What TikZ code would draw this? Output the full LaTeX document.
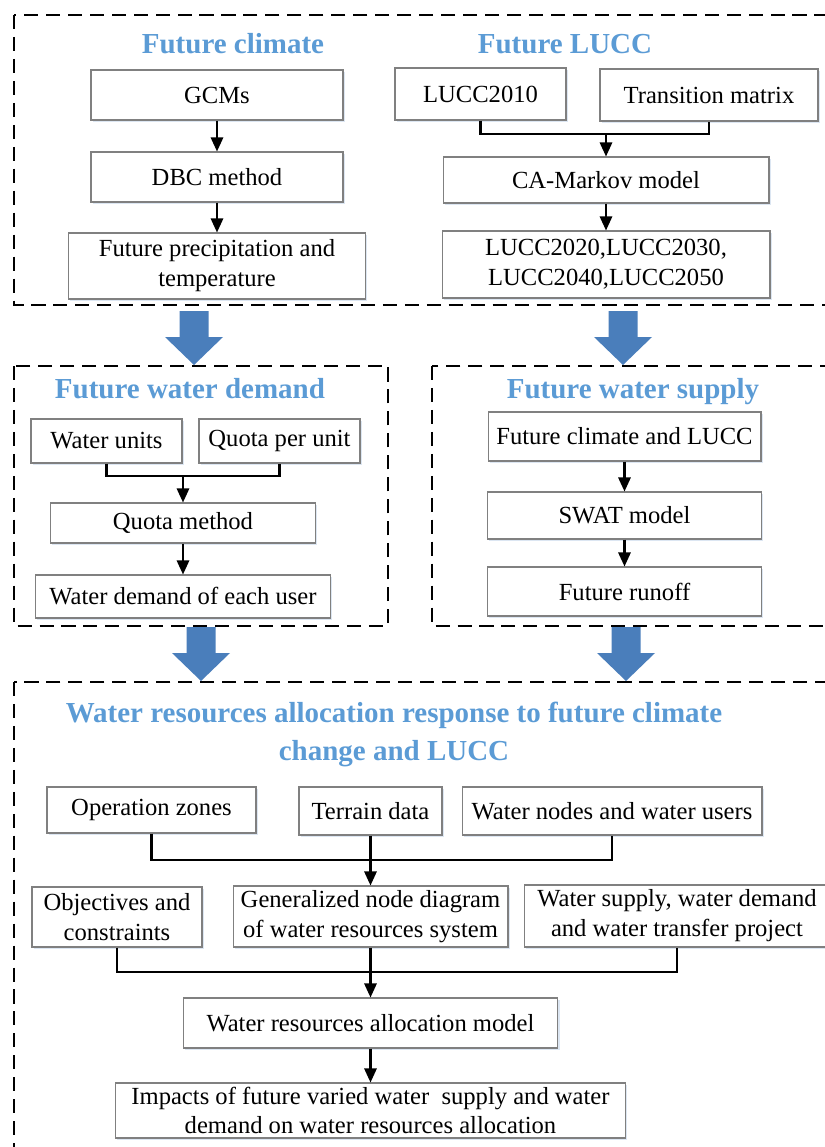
\documentclass[tikz,border=0pt]{standalone}
\usepackage{fontspec}
\setmainfont{Liberation Serif}
\usetikzlibrary{arrows.meta, shadows}
\definecolor{ctitle}{HTML}{5B9BD5}
\definecolor{cbig}{HTML}{4A7EBB}
\definecolor{cgrey}{HTML}{808080}
\definecolor{cshadow}{HTML}{DCE6F2}
\tikzset{
  box/.style={draw=cgrey, line width=0.6pt, fill=white, align=center, inner sep=2pt,
    font=\fontsize{14}{17}\selectfont,
    drop shadow={shadow xshift=1pt, shadow yshift=-1.4pt, fill=cshadow, opacity=1}},
  title/.style={font=\fontsize{16.5}{21.5}\selectfont\bfseries, text=ctitle, align=center, anchor=base},
  dashbox/.style={draw=black, line width=1pt, dash pattern=on 8pt off 4.5pt},
  arrow/.style={-{Triangle[width=7pt, length=8pt]}, draw=black, line width=1.2pt},
  link/.style={draw=black, line width=1.2pt},
  bigarrow/.pic={
    \fill[cbig] (-14.5,0) -- (14.5,0) -- (14.5,26) -- (29,26) -- (0,54)
      -- (-29,26) -- (-14.5,26) -- cycle;
  },
}

\begin{document}
\begin{tikzpicture}[x=0.02cm, y=-0.02cm]
  \useasboundingbox (0,0) rectangle (825,1147);
  \clip (0,0) rectangle (825,1147);

  % dashed frames
  \draw[dashbox] (14,15) rectangle (845,305);
  \draw[dashbox] (14,366) rectangle (388,626);
  \draw[dashbox] (432,366) rectangle (845,626);
  \draw[dashbox] (14,682) rectangle (845,1170);

  % future climate
  \node[title] (tclim) at (233,53) {Future climate};
  \node[box, minimum width=5.04cm, minimum height=1cm] (gcm) at (217,95) {GCMs};
  \node[box, minimum width=5.04cm, minimum height=1cm] (dbc) at (217,177) {DBC method};
  \node[box, minimum width=5.94cm, minimum height=1.32cm] (fpt) at (217,266)
    {Future precipitation and\\temperature};
  \draw[arrow] (gcm) -- (dbc);
  \draw[arrow] (dbc) -- (fpt);

  % future LUCC
  \node[title] (tlucc) at (565,53) {Future LUCC};
  \node[box, minimum width=3.42cm, minimum height=1.04cm] (lucc10) at (480.5,94) {LUCC2010};
  \node[box, minimum width=4.36cm, minimum height=1.04cm] (trans) at (709,95) {Transition matrix};
  \node[box, minimum width=6.52cm, minimum height=0.92cm] (ca) at (606,180) {CA-Markov model};
  \node[box, minimum width=6.56cm, minimum height=1.34cm] (lucc50) at (606,264.5)
    {LUCC2020,LUCC2030,\\LUCC2040,LUCC2050};
  \coordinate (jl) at (606,134);
  \draw[link] (lucc10.south) |- (jl) -| (trans.south);
  \draw[arrow] (jl) -- (ca.north);
  \draw[arrow] (ca) -- (lucc50);

  % big arrows
  \pic (ba1) at (194,311) {bigarrow};
  \pic (ba2) at (623,311) {bigarrow};
  \pic (ba3) at (201,627) {bigarrow};
  \pic (ba4) at (626,627) {bigarrow};

  % future water demand
  \node[title] (tdem) at (190,398) {Future water demand};
  \node[box, minimum width=3.02cm, minimum height=0.88cm] (wu) at (106.5,441) {Water units};
  \node[box, minimum width=3.22cm, minimum height=0.88cm] (qpu) at (279.5,441) {Quota per unit};
  \node[box, minimum width=5.3cm, minimum height=0.8cm] (qm) at (183,523) {Quota method};
  \node[box, minimum width=5.9cm, minimum height=0.86cm] (wde) at (183,596.5) {Water demand of each user};
  \coordinate (jd) at (183,476);
  \draw[link] (wu.south) |- (jd) -| (qpu.south);
  \draw[arrow] (jd) -- (qm.north);
  \draw[arrow] (qm) -- (wde);

  % future water supply
  \node[title] (tsup) at (633,398) {Future water supply};
  \node[box, minimum width=5.46cm, minimum height=0.98cm] (fcl) at (624.5,436.5) {Future climate and LUCC};
  \node[box, minimum width=5.48cm, minimum height=0.94cm] (swat) at (624.5,515.5) {SWAT model};
  \node[box, minimum width=5.48cm, minimum height=0.98cm] (fro) at (624.5,591.5) {Future runoff};
  \draw[arrow] (fcl) -- (swat);
  \draw[arrow] (swat) -- (fro);

  % allocation response
  \node[title] (talloc) at (394,760)
    {Water resources allocation response to future climate\\change and LUCC};
  \node[box, minimum width=4.18cm, minimum height=0.92cm] (opz) at (151.5,810) {Operation zones};
  \node[box, minimum width=2.86cm, minimum height=0.96cm] (ter) at (370.5,811) {Terrain data};
  \node[box, minimum width=6cm, minimum height=0.96cm] (wnu) at (612,811) {Water nodes and water users};
  \node[box, minimum width=3.4cm, minimum height=1.2cm] (obj) at (117,917) {Objectives and\\constraints};
  \node[box, minimum width=5.5cm, minimum height=1.22cm] (gen) at (370.5,916.5)
    {Generalized node diagram\\of water resources system};
  \node[box, minimum width=6.12cm, minimum height=1.24cm] (wsd) at (677,916)
    {Water supply, water demand\\and water transfer project};
  \node[box, minimum width=7.5cm, minimum height=1cm] (wam) at (370.5,1023) {Water resources allocation model};
  \node[box, minimum width=10.2cm, minimum height=1.1cm] (imp) at (370.5,1110.5)
    {Impacts of future varied water\ \ supply and water\\demand on water resources allocation};
  \coordinate (jt) at (370.5,860);
  \draw[link] (opz.south) |- (jt) -| (wnu.south);
  \draw[arrow] (ter.south) -- (gen.north);
  \coordinate (jo) at (370.5,972);
  \draw[link] (obj.south) |- (jo) -| (wsd.south);
  \draw[arrow] (gen.south) -- (wam.north);
  \draw[arrow] (wam) -- (imp);
\end{tikzpicture}
\end{document}
